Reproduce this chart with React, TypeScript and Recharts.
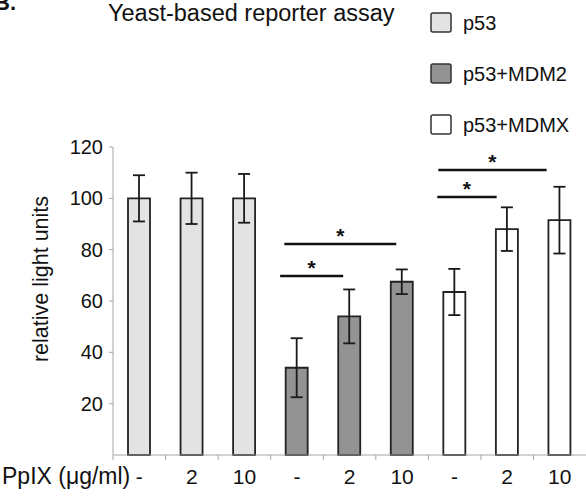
import React from 'react';
import {
  BarChart,
  Bar,
  Cell,
  XAxis,
  YAxis,
  ErrorBar,
  Legend,
  ReferenceLine,
} from 'recharts';

// groups and doses, left to right
const groups = ['p53', 'p53', 'p53', 'p53+MDM2', 'p53+MDM2', 'p53+MDM2', 'p53+MDMX', 'p53+MDMX', 'p53+MDMX'];
const doses = ['-', '2', '10', '-', '2', '10', '-', '2', '10'];
const values = [100, 100, 100, 34, 54, 67.5, 63.5, 88, 91.5];
const errors = [9, 10, 9.5, 11.5, 10.5, 4.8, 9, 8.5, 13];

const yTicks = [20, 40, 60, 80, 100, 120];

const legendItems = [
  { name: 'p53', fill: '#e3e3e3' },
  { name: 'p53+MDM2', fill: '#939393' },
  { name: 'p53+MDMX', fill: '#ffffff' },
];

// significance brackets, x in bar slots (0..9)
const brackets = [
  { x1: 3.18, x2: 4.38, y: 69.7 },
  { x1: 3.26, x2: 5.39, y: 82.2 },
  { x1: 6.17, x2: 7.3, y: 100.5 },
  { x1: 6.19, x2: 8.25, y: 111 },
];

const fillFor = (g: string) => legendItems.find((l) => l.name === g)!.fill;

const data = values.map((v, i) => ({
  id: `${groups[i]}-${i}`,
  slot: i + 0.5,
  value: v,
  err: errors[i],
  group: groups[i],
}));

const FONT = 'Arial, "Liberation Sans", sans-serif';

const XTick = (props: any) => {
  const { x, y, index } = props;
  const band = 472.5 / doses.length;
  return (
    <g>
      <line x1={x - band / 2} x2={x - band / 2} y1={y} y2={y + 5} stroke="#a6a6a6" strokeWidth={1} />
      <text x={x} y={y + 29} textAnchor="middle" fontSize={21} fill="#111" fontFamily={FONT}>
        {doses[index]}
      </text>
    </g>
  );
};

const LegendBox = () => (
  <svg width={160} height={140}>
    {legendItems.map((it, i) => (
      <g key={it.name}>
        <rect x={3} y={13 + i * 51} width={20} height={19} rx={2} fill={it.fill} stroke="#333" strokeWidth={1.5} />
        <text x={35} y={30 + i * 51} fontSize={20} fill="#111" fontFamily={FONT}>
          {it.name}
        </text>
      </g>
    ))}
  </svg>
);

export default function App() {
  return (
    <div style={{ position: 'absolute', left: 0, top: 0, width: 586, height: 497, background: '#fff', fontFamily: FONT }}>
      <BarChart width={586} height={497} data={data} margin={{ top: 147, right: 0, left: 0, bottom: 0 }}>
        <XAxis
          dataKey="id"
          height={42}
          axisLine={{ stroke: '#a6a6a6' }}
          tickLine={false}
          tickSize={0}
          tickMargin={0}
          interval={0}
          tick={<XTick />}
        />
        <XAxis xAxisId="n" dataKey="slot" type="number" domain={[0, 9]} allowDataOverflow hide />
        <YAxis
          width={113}
          domain={[0, 120]}
          ticks={yTicks}
          axisLine={{ stroke: '#a6a6a6' }}
          tickLine={{ stroke: '#a6a6a6' }}
          tickSize={4}
          tickMargin={6}
          tick={{ fontSize: 20, fill: '#111', fontFamily: FONT }}
        />
        <Legend
          layout="vertical"
          align="center"
          verticalAlign="middle"
          content={<LegendBox />}
          wrapperStyle={{ position: 'absolute', top: 0, left: 428, width: 160 }}
        />
        <Bar dataKey="value" barSize={22} stroke="#222" strokeWidth={1.8} isAnimationActive={false}>
          {data.map((d) => (
            <Cell key={d.id} fill={fillFor(d.group)} />
          ))}
          <ErrorBar dataKey="err" width={6} stroke="#1a1a1a" strokeWidth={1.8} />
        </Bar>
        {brackets.map((b, i) => (
          <ReferenceLine
            key={i}
            xAxisId="n"
            segment={[{ x: b.x1, y: b.y }, { x: b.x2, y: b.y }]}
            stroke="#111"
            strokeWidth={2.5}
            label={{ value: '*', position: 'top', offset: 1.5, fontSize: 21, fontWeight: 'bold', fill: '#111', fontFamily: FONT }}
          />
        ))}
      </BarChart>
      <svg width={586} height={497} style={{ position: 'absolute', left: 0, top: 0, pointerEvents: 'none' }}>
        <text x={-6} y={10} fontSize={22} fontWeight="bold" fill="#111" fontFamily={FONT}>B.</text>
        <text x={108} y={21} fontSize={23.5} fill="#111" fontFamily={FONT}>Yeast-based reporter assay</text>
        <text x={48} y={279} fontSize={21.5} fill="#111" fontFamily={FONT} textAnchor="middle" transform="rotate(-90 48 279)">
          relative light units
        </text>
        <text x={2} y={484} fontSize={23} fill="#111" fontFamily={FONT}>PpIX (μg/ml)</text>
      </svg>
    </div>
  );
}
